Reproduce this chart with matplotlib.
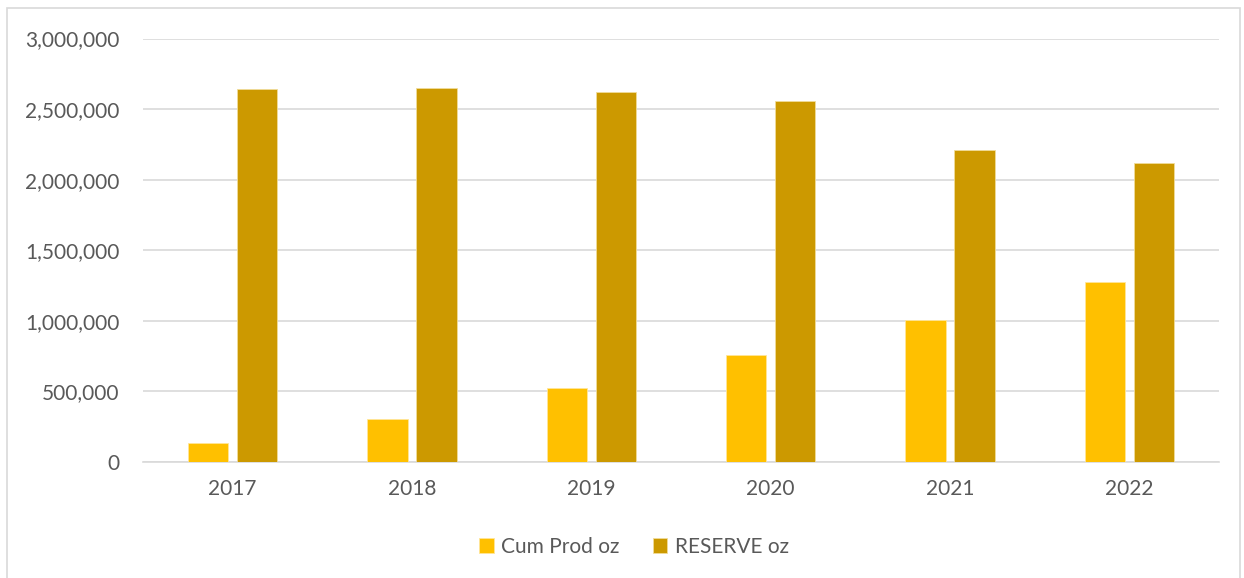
import matplotlib
matplotlib.use("Agg")
import matplotlib.pyplot as plt
from matplotlib.patches import Rectangle
from matplotlib.ticker import FuncFormatter
import numpy as np

years = ["2017", "2018", "2019", "2020", "2021", "2022"]
cum_prod = [137000, 307000, 526000, 760000, 1008000, 1277000]
reserve = [2644000, 2651000, 2620000, 2557000, 2207000, 2118000]
series_names = ["Cum Prod oz", "RESERVE oz"]

W, H = 1244, 578
fig = plt.figure(figsize=(W / 100, H / 100), dpi=100)
plt.rcParams['font.family'] = ['Lato', 'DejaVu Sans']

# outer chart border
fig.patches.append(Rectangle((7 / W, -0.01), (1240 - 7) / W, 1.01 - 8 / H,
                             transform=fig.transFigure, fill=False,
                             edgecolor="#D9D9D9", linewidth=1.2))

ax = fig.add_axes([143 / W, 1 - 462 / H, (1219 - 143) / W, (462 - 38.5) / H])

x = np.arange(len(years))
bw = 0.225
off = 0.137
ax.bar(x - off, cum_prod, bw, color="#FFC000", edgecolor="#FFE699", linewidth=0.6,
       label=series_names[0], zorder=3)
ax.bar(x + off, reserve, bw, color="#CC9900", edgecolor="#F0DC9A", linewidth=0.6,
       label=series_names[1], zorder=3)

ax.set_xlim(-0.5, len(years) - 0.5)
ax.set_ylim(0, 3000000)
ax.set_yticks(np.arange(0, 3000001, 500000))
ax.yaxis.set_major_formatter(FuncFormatter(lambda v, p: f"{int(v):,}"))
ax.set_xticks(x)
ax.set_xticklabels(years)

ax.grid(axis="y", color="#D9D9D9", linewidth=1.2, zorder=0)
for s in ["top", "right", "left"]:
    ax.spines[s].set_visible(False)
ax.spines["bottom"].set_color("#D9D9D9")
ax.spines["bottom"].set_linewidth(1.2)
ax.tick_params(axis="both", length=0, labelsize=15, labelcolor="#595959")
ax.tick_params(axis="y", pad=17)
ax.tick_params(axis="x", pad=12)

leg = fig.legend(loc="center", bbox_to_anchor=(634 / W, 1 - 547 / H), ncol=2,
                 frameon=False, fontsize=15, handlelength=0.7, handleheight=0.7,
                 handletextpad=0.35, columnspacing=1.6)
for t in leg.get_texts():
    t.set_color("#595959")

fig.savefig("out.png", dpi=100)
